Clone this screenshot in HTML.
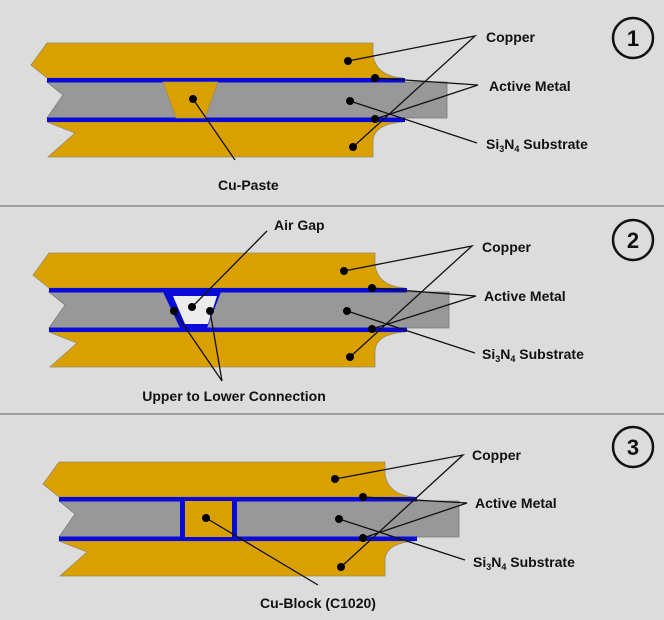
<!DOCTYPE html>
<html><head><meta charset="utf-8"><style>
html,body{margin:0;padding:0;background:#dcdcdc;}
svg{display:block}
text{font-family:"Liberation Sans",sans-serif;font-weight:bold;font-size:14px;fill:#111}
</style></head><body>
<svg width="664" height="620" viewBox="0 0 664 620" xmlns="http://www.w3.org/2000/svg">
<defs>
<g id="layers">
  <path d="M47,43 L373,43 L373,55 Q376,76 403,78 L47,78 L31,65 Z" fill="#d9a000" stroke="#9a8a60" stroke-width="0.8"/>
  <path d="M47,82 L447,82 L447,118 L47,118 L63,95 Z" fill="#989898" stroke="#7a7a7a" stroke-width="0.8"/>
  <path d="M47,122 L403,122 Q375,124 373,140 L373,157 L48,157 L75,133 Z" fill="#d9a000" stroke="#9a8a60" stroke-width="0.8"/>
  <rect x="47" y="78" width="358" height="4.5" fill="#0a0ad8"/>
  <rect x="47" y="117.5" width="358" height="4.5" fill="#0a0ad8"/>
</g>
</defs>
<line x1="0" y1="206" x2="664" y2="206" stroke="#888" stroke-width="1.5"/>
<line x1="0" y1="414" x2="664" y2="414" stroke="#888" stroke-width="1.5"/>

<!-- Panel 1 -->
<use href="#layers"/>
<path d="M163,82 L218,82 L205,118 L176,118 Z" fill="#d9a000" stroke="#9a8a60" stroke-width="0.8"/>
<g stroke="#111" stroke-width="1.3" fill="none">
<path d="M348,61 L475,36 L353,147"/>
<path d="M375,78 L478,85 L375,119"/>
<path d="M350,101 L477,143"/>
<path d="M193,99 L235,160"/>
</g>
<g fill="#000"><circle cx="348" cy="61" r="4"/><circle cx="353" cy="147" r="4"/><circle cx="375" cy="78" r="4"/><circle cx="375" cy="119" r="4"/><circle cx="350" cy="101" r="4"/><circle cx="193" cy="99" r="4"/></g>
<text x="486" y="42">Copper</text>
<text x="489" y="91">Active Metal</text>
<text x="486" y="149">Si<tspan font-size="9" dy="3">3</tspan><tspan dy="-3">N</tspan><tspan font-size="9" dy="3">4</tspan><tspan dy="-3"> Substrate</tspan></text>
<text x="218" y="190">Cu-Paste</text>
<circle cx="633" cy="38" r="20" fill="none" stroke="#111" stroke-width="2.5"/>
<text x="633" y="46" text-anchor="middle" style="font-size:22px">1</text>

<!-- Panel 2 -->
<g transform="translate(2,210)">
<use href="#layers"/>
<path d="M161,82 L219,82 L205,118 L178,118 Z" fill="#0a0ad8"/>
<path d="M171,86 L215,86 L206,114 L183,114 Z" fill="#ececec"/>
</g>
<g stroke="#111" stroke-width="1.3" fill="none">
<path d="M344,271 L472,246 L350,357"/>
<path d="M372,288 L476,296 L372,329"/>
<path d="M347,311 L475,353"/>
<path d="M192,307 L267,231"/>
<path d="M174,311 L222,381 L210,311"/>
</g>
<g fill="#000"><circle cx="344" cy="271" r="4"/><circle cx="350" cy="357" r="4"/><circle cx="372" cy="288" r="4"/><circle cx="372" cy="329" r="4"/><circle cx="347" cy="311" r="4"/><circle cx="192" cy="307" r="4"/><circle cx="174" cy="311" r="4"/><circle cx="210" cy="311" r="4"/></g>
<text x="274" y="230">Air Gap</text>
<text x="482" y="252">Copper</text>
<text x="484" y="301">Active Metal</text>
<text x="482" y="359">Si<tspan font-size="9" dy="3">3</tspan><tspan dy="-3">N</tspan><tspan font-size="9" dy="3">4</tspan><tspan dy="-3"> Substrate</tspan></text>
<text x="234" y="401" text-anchor="middle">Upper to Lower Connection</text>
<circle cx="633" cy="240" r="20" fill="none" stroke="#111" stroke-width="2.5"/>
<text x="633" y="248" text-anchor="middle" style="font-size:22px">2</text>

<!-- Panel 3 -->
<g transform="translate(12,419)">
<use href="#layers"/>
<rect x="168" y="82" width="57" height="36" fill="#0a0ad8"/>
<rect x="173" y="82" width="47" height="36" fill="#d9a000"/>
</g>
<g stroke="#111" stroke-width="1.3" fill="none">
<path d="M335,479 L463,455 L341,567"/>
<path d="M363,497 L467,503 L363,538"/>
<path d="M339,519 L465,560"/>
<path d="M206,518 L318,585"/>
</g>
<g fill="#000"><circle cx="335" cy="479" r="4"/><circle cx="341" cy="567" r="4"/><circle cx="363" cy="497" r="4"/><circle cx="363" cy="538" r="4"/><circle cx="339" cy="519" r="4"/><circle cx="206" cy="518" r="4"/></g>
<text x="472" y="460">Copper</text>
<text x="475" y="508">Active Metal</text>
<text x="473" y="567">Si<tspan font-size="9" dy="3">3</tspan><tspan dy="-3">N</tspan><tspan font-size="9" dy="3">4</tspan><tspan dy="-3"> Substrate</tspan></text>
<text x="318" y="608" text-anchor="middle">Cu-Block (C1020)</text>
<circle cx="633" cy="447" r="20" fill="none" stroke="#111" stroke-width="2.5"/>
<text x="633" y="455" text-anchor="middle" style="font-size:22px">3</text>
</svg>
</body></html>
